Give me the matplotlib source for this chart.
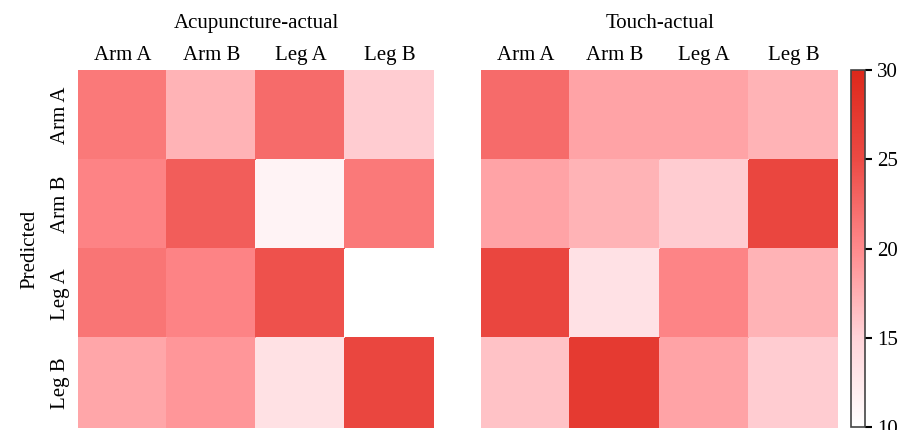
import numpy as np
import matplotlib
matplotlib.use("Agg")
import matplotlib.pyplot as plt
from matplotlib.colors import LinearSegmentedColormap

plt.rcParams['font.family'] = ['Liberation Serif', 'DejaVu Serif']

labels = ["Arm A", "Arm B", "Leg A", "Leg B"]
titles = ["Acupuncture-actual", "Touch-actual"]

# rows = predicted, columns = actual
acupuncture = [
    [21.3, 17.2, 22.4, 15.5],
    [20.5, 23.5, 11.4, 21.3],
    [21.6, 20.5, 24.4, 10.0],
    [18.1, 19.2, 13.5, 25.6],
]
touch = [
    [22.4, 18.3, 18.3, 17.2],
    [18.3, 17.2, 15.5, 25.6],
    [25.6, 13.4, 20.4, 17.2],
    [16.2, 27.3, 18.3, 15.5],
]

cmap = LinearSegmentedColormap.from_list(
    "reds", [(0.0, "#ffffff"), (0.25, "#ffd3d8"), (0.5, "#ff8a8c"),
             (0.75, "#ec4a44"), (1.0, "#dc281b")])

fig = plt.figure(figsize=(9, 4.3), dpi=100)
ax1 = fig.add_axes([0.0867, 0.005, 0.396, 0.832])
ax2 = fig.add_axes([0.5345, 0.005, 0.397, 0.832])
cax = fig.add_axes([0.9456, 0.007, 0.0156, 0.830])

for ax, data, title in zip([ax1, ax2], [acupuncture, touch], titles):
    m = ax.pcolormesh(np.array(data), cmap=cmap, vmin=10, vmax=30,
                      edgecolors="face", linewidth=0.3)
    ax.set_xlim(0, 4)
    ax.set_ylim(4, 0)
    ax.xaxis.tick_top()
    ax.set_xticks(np.arange(4) + 0.5)
    ax.set_xticklabels(labels, fontsize=15)
    ax.set_title(title, fontsize=15, pad=30)
    ax.tick_params(length=0, pad=4)
    for s in ax.spines.values():
        s.set_visible(False)

ax1.set_yticks(np.arange(4) + 0.5)
ax1.set_yticklabels(labels, fontsize=15, rotation=90, va="center")
ax1.tick_params(axis="y", pad=6)
ax1.set_ylabel("Predicted", fontsize=15, labelpad=8)
ax2.set_yticks([])

cb = fig.colorbar(m, cax=cax)
cb.set_ticks([10, 15, 20, 25, 30])
cb.ax.tick_params(labelsize=15, length=5, width=1.5, direction="out")
cb.outline.set_linewidth(1.2)
cb.outline.set_edgecolor("#444444")

fig.savefig("out.png", dpi=100)
